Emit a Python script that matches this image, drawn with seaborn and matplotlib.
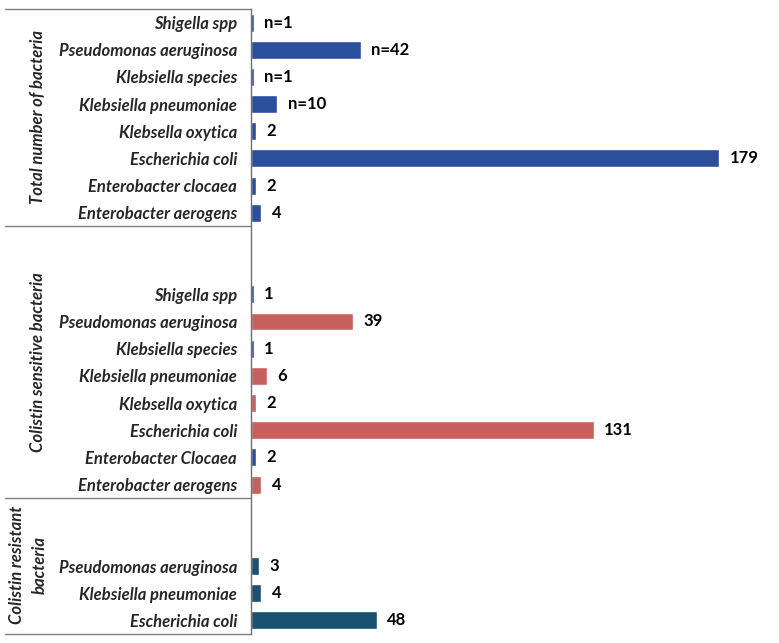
import matplotlib
matplotlib.use("Agg")
import matplotlib.pyplot as plt
import seaborn as sns
import pandas as pd
import numpy as np

# data
total_names = ["Shigella spp", "Pseudomonas aeruginosa", "Klebsiella species", "Klebsiella pneumoniae",
               "Klebsella oxytica", "Escherichia coli", "Enterobacter clocaea", "Enterobacter aerogens"]
total_values = [1, 42, 1, 10, 2, 179, 2, 4]
total_labels = ["n=1", "n=42", "n=1", "n=10", "2", "179", "2", "4"]
total_colors = ["total"] * 8

sens_names = ["Shigella spp", "Pseudomonas aeruginosa", "Klebsiella species", "Klebsiella pneumoniae",
              "Klebsella oxytica", "Escherichia coli", "Enterobacter Clocaea", "Enterobacter aerogens"]
sens_values = [1, 39, 1, 6, 2, 131, 2, 4]
sens_labels = ["1", "39", "1", "6", "2", "131", "2", "4"]
sens_colors = ["total", "sens", "total", "sens", "sens", "sens", "total", "sens"]

res_names = ["Pseudomonas aeruginosa", "Klebsiella pneumoniae", "Escherichia coli"]
res_values = [3, 4, 48]
res_labels = ["3", "4", "48"]
res_colors = ["res"] * 3

group_titles = ["Total number of bacteria", "Colistin sensitive bacteria", "Colistin resistant\nbacteria"]
palette = {"total": "#2C4F9C", "sens": "#C8605F", "res": "#1A5170"}

# row layout: 8 bars, 2 blank, 8 bars, 2 blank, 3 bars
rows = list(range(0, 8)) + list(range(10, 18)) + list(range(20, 23))
df = pd.DataFrame({
    "row": rows,
    "name": total_names + sens_names + res_names,
    "value": total_values + sens_values + res_values,
    "label": total_labels + sens_labels + res_labels,
    "color": total_colors + sens_colors + res_colors,
})

sns.set_style("white")
plt.rcParams["font.family"] = ["Lato", "DejaVu Sans"]

fig = plt.figure(figsize=(7.79, 6.43), dpi=100)
ax = fig.add_axes([251 / 779, 1 - 634 / 643, (760 - 251) / 779, 625 / 643])

sns.barplot(data=df, x="value", y="row", hue="color", palette=palette, orient="h",
            native_scale=True, width=0.66, dodge=False, legend=False, saturation=1, ax=ax)

ax.set_ylim(22.5, -0.5)
ax.set_xlim(0, 194.6)
ax.set_yticks(df["row"])
ax.set_yticklabels(df["name"], fontsize=12, fontweight="bold", fontstyle="italic")
ax.tick_params(axis="y", length=0, pad=10)
ax.set_xticks([])
ax.set_xlabel("")
ax.set_ylabel("")
for s in ["top", "right", "bottom"]:
    ax.spines[s].set_visible(False)
ax.spines["left"].set_color("#6e6e6e")
ax.spines["left"].set_linewidth(1)

for r, v, lab in zip(df["row"], df["value"], df["label"]):
    ax.annotate(lab, (v, r), xytext=(7.5, 0), textcoords="offset points", ha="left", va="center",
                fontsize=12, fontweight="bold", color="black")

# separator lines on the left
xmin = -(251 - 5) / (760 - 251)
for yy in [-0.5, 7.5, 17.5, 22.5]:
    ax.axhline(yy, xmin=xmin, xmax=0, color="#7f7f7f", linewidth=1, clip_on=False)

# group titles
fig.text(38 / 779, 1 - 117 / 643, group_titles[0], rotation=90, ha="center", va="center",
         fontsize=12, fontweight="bold", fontstyle="italic")
fig.text(38 / 779, 1 - 362 / 643, group_titles[1], rotation=90, ha="center", va="center",
         fontsize=12, fontweight="bold", fontstyle="italic")
fig.text(28 / 779, 1 - 565 / 643, group_titles[2], rotation=90, ha="center", va="center",
         fontsize=12, fontweight="bold", fontstyle="italic", linespacing=1.5)

fig.savefig("out.png", dpi=100)
